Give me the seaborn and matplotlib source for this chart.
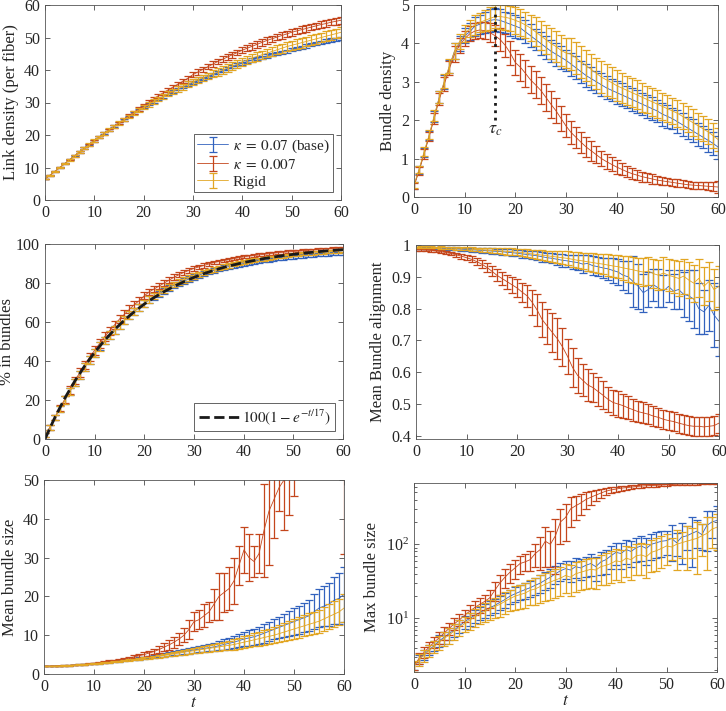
import matplotlib
matplotlib.use('Agg')
import pandas as pd
import matplotlib.pyplot as plt
import seaborn as sns
from matplotlib.ticker import LogLocator, NullFormatter

# time points (one sample per time unit)
t = list(range(61))
labels = [r'$\kappa\;=\;0.07$ (base)', r'$\kappa\;=\;0.007$', 'Rigid']
colors = ['#3262BE', '#C4461C', '#E2A624']

# --- link density (per fiber)
link_base = [6.5, 7.6, 8.8, 10.0, 11.2, 12.4, 13.6, 14.8, 16.0, 17.1,
             18.3, 19.4, 20.5, 21.6, 22.7, 23.7, 24.7, 25.7, 26.7, 27.6,
             28.5, 29.4, 30.3, 31.1, 31.9, 32.7, 33.4, 34.1, 34.8, 35.5,
             36.2, 36.8, 37.4, 38.0, 38.6, 39.2, 39.8, 40.4, 41.0, 41.6,
             42.1, 42.6, 43.1, 43.5, 43.9, 44.3, 44.7, 45.1, 45.5, 45.8,
             46.2, 46.6, 47.0, 47.4, 47.8, 48.2, 48.5, 48.9, 49.2, 49.5,
             49.8]
link_soft = [6.5, 7.6, 8.8, 10.0, 11.2, 12.4, 13.5, 14.7, 15.9, 17.0,
             18.2, 19.3, 20.4, 21.5, 22.6, 23.7, 24.8, 25.9, 27.0, 28.0,
             29.1, 30.1, 31.1, 32.1, 33.0, 33.9, 34.8, 35.7, 36.6, 37.5,
             38.6, 39.4, 40.2, 41.0, 41.8, 42.6, 43.3, 44.0, 44.7, 45.4,
             46.1, 46.7, 47.3, 47.9, 48.5, 49.1, 49.6, 50.1, 50.6, 51.1,
             51.6, 52.0, 52.4, 52.8, 53.2, 53.6, 54.0, 54.3, 54.7, 55.0,
             55.3]
link_rigid = [6.5, 7.6, 8.8, 10.0, 11.2, 12.4, 13.6, 14.8, 16.0, 17.1,
              18.3, 19.4, 20.5, 21.6, 22.7, 23.7, 24.7, 25.7, 26.7, 27.6,
              28.5, 29.4, 30.3, 31.1, 31.9, 32.7, 33.5, 34.2, 34.9, 35.6,
              36.3, 37.0, 37.6, 38.2, 38.8, 39.4, 40.0, 40.6, 41.2, 41.8,
              42.5, 43.1, 43.7, 44.2, 44.7, 45.2, 45.7, 46.2, 46.7, 47.2,
              47.6, 48.0, 48.4, 48.8, 49.2, 49.6, 50.0, 50.4, 50.8, 51.2,
              51.6]
link_base_err = [0.1, 0.1, 0.1, 0.1, 0.2, 0.2, 0.2, 0.2, 0.2, 0.2,
                 0.3, 0.3, 0.3, 0.3, 0.3, 0.3, 0.3, 0.3, 0.3, 0.3,
                 0.3, 0.3, 0.4, 0.4, 0.4, 0.4, 0.4, 0.4, 0.4, 0.4,
                 0.4, 0.4, 0.4, 0.4, 0.5, 0.5, 0.5, 0.5, 0.5, 0.5,
                 0.5, 0.5, 0.5, 0.5, 0.5, 0.5, 0.5, 0.5, 0.5, 0.5,
                 0.5, 0.5, 0.5, 0.5, 0.5, 0.5, 0.5, 0.5, 0.5, 0.5,
                 0.5]
link_soft_err = [0.1, 0.1, 0.1, 0.2, 0.2, 0.2, 0.2, 0.3, 0.3, 0.3,
                 0.3, 0.3, 0.4, 0.4, 0.4, 0.4, 0.4, 0.5, 0.5, 0.5,
                 0.5, 0.6, 0.6, 0.6, 0.6, 0.7, 0.7, 0.7, 0.7, 0.8,
                 0.8, 0.8, 0.8, 0.8, 0.9, 0.9, 0.9, 0.9, 0.9, 0.9,
                 1.0, 1.0, 1.0, 1.0, 1.0, 1.0, 1.0, 1.0, 1.0, 1.0,
                 1.0, 1.0, 1.0, 1.0, 1.0, 1.0, 1.0, 1.0, 1.0, 1.0,
                 1.0]
link_rigid_err = [0.1, 0.1, 0.2, 0.2, 0.2, 0.3, 0.3, 0.3, 0.3, 0.4,
                  0.4, 0.4, 0.4, 0.5, 0.5, 0.5, 0.5, 0.6, 0.6, 0.6,
                  0.6, 0.7, 0.7, 0.7, 0.8, 0.8, 0.8, 0.9, 0.9, 0.9,
                  1.0, 1.0, 1.0, 1.0, 1.1, 1.1, 1.1, 1.2, 1.2, 1.2,
                  1.2, 1.3, 1.3, 1.3, 1.3, 1.3, 1.4, 1.4, 1.4, 1.4,
                  1.4, 1.4, 1.5, 1.5, 1.5, 1.5, 1.5, 1.5, 1.5, 1.5,
                  1.5]

# --- bundle density
dens_base = [0.30, 0.70, 1.15, 1.60, 2.10, 2.60, 3.00, 3.40, 3.80, 4.00,
             4.20, 4.30, 4.45, 4.50, 4.55, 4.60, 4.62, 4.60, 4.55, 4.50,
             4.45, 4.40, 4.30, 4.20, 4.10, 4.00, 3.90, 3.80, 3.72, 3.64,
             3.56, 3.46, 3.36, 3.26, 3.16, 3.08, 3.00, 2.92, 2.84, 2.78,
             2.72, 2.66, 2.60, 2.54, 2.48, 2.42, 2.36, 2.30, 2.24, 2.16,
             2.10, 2.04, 1.96, 1.88, 1.80, 1.72, 1.64, 1.56, 1.48, 1.40,
             1.30]
dens_soft = [0.28, 0.68, 1.12, 1.58, 2.05, 2.55, 2.95, 3.35, 3.72, 3.95,
             4.12, 4.25, 4.32, 4.35, 4.33, 4.28, 4.20, 4.10, 3.95, 3.75,
             3.50, 3.38, 3.22, 3.05, 2.92, 2.78, 2.60, 2.42, 2.25, 2.05,
             1.85, 1.68, 1.55, 1.42, 1.30, 1.20, 1.10, 1.00, 0.92, 0.85,
             0.78, 0.72, 0.66, 0.61, 0.57, 0.53, 0.50, 0.47, 0.44, 0.42,
             0.40, 0.38, 0.36, 0.34, 0.32, 0.31, 0.30, 0.29, 0.28, 0.27,
             0.26]
dens_rigid = [0.32, 0.72, 1.18, 1.62, 2.12, 2.60, 3.02, 3.42, 3.80, 4.05,
              4.25, 4.38, 4.48, 4.55, 4.60, 4.65, 4.70, 4.70, 4.68, 4.65,
              4.60, 4.55, 4.48, 4.40, 4.30, 4.20, 4.10, 4.00, 3.92, 3.82,
              3.75, 3.72, 3.62, 3.52, 3.42, 3.32, 3.22, 3.12, 3.05, 2.98,
              2.90, 2.84, 2.78, 2.72, 2.66, 2.60, 2.54, 2.48, 2.42, 2.36,
              2.30, 2.24, 2.18, 2.10, 2.02, 1.94, 1.86, 1.78, 1.70, 1.60,
              1.50]
dens_base_err = [0.08, 0.10, 0.12, 0.12, 0.15, 0.15, 0.18, 0.18, 0.20, 0.20,
                 0.20, 0.22, 0.25, 0.25, 0.28, 0.30, 0.30, 0.30, 0.28, 0.30,
                 0.30, 0.28, 0.30, 0.30, 0.28, 0.30, 0.30, 0.28, 0.30, 0.30,
                 0.28, 0.30, 0.30, 0.28, 0.30, 0.30, 0.28, 0.30, 0.30, 0.28,
                 0.30, 0.30, 0.28, 0.30, 0.30, 0.28, 0.30, 0.30, 0.28, 0.30,
                 0.30, 0.28, 0.30, 0.30, 0.28, 0.30, 0.30, 0.28, 0.30, 0.30,
                 0.30]
dens_soft_err = [0.08, 0.10, 0.12, 0.12, 0.15, 0.15, 0.18, 0.18, 0.20, 0.20,
                 0.20, 0.20, 0.20, 0.20, 0.22, 0.25, 0.28, 0.30, 0.30, 0.32,
                 0.32, 0.35, 0.35, 0.35, 0.35, 0.35, 0.35, 0.35, 0.33, 0.33,
                 0.30, 0.30, 0.28, 0.28, 0.25, 0.25, 0.22, 0.20, 0.20, 0.18,
                 0.18, 0.16, 0.15, 0.14, 0.14, 0.13, 0.12, 0.12, 0.11, 0.11,
                 0.10, 0.10, 0.10, 0.09, 0.09, 0.09, 0.09, 0.09, 0.10, 0.12,
                 0.15]
dens_rigid_err = [0.08, 0.10, 0.12, 0.12, 0.15, 0.15, 0.18, 0.18, 0.20, 0.20,
                  0.22, 0.22, 0.25, 0.25, 0.28, 0.30, 0.30, 0.32, 0.32, 0.32,
                  0.35, 0.35, 0.35, 0.35, 0.38, 0.38, 0.38, 0.40, 0.40, 0.40,
                  0.40, 0.42, 0.42, 0.42, 0.40, 0.40, 0.40, 0.42, 0.42, 0.40,
                  0.40, 0.40, 0.38, 0.38, 0.38, 0.38, 0.36, 0.36, 0.36, 0.36,
                  0.35, 0.35, 0.35, 0.34, 0.34, 0.34, 0.34, 0.32, 0.32, 0.32,
                  0.30]
tau_c = 16
tau_line = [2, 5]

# --- % in bundles
pct_base = [2, 6, 11, 15.5, 20, 24.5, 29, 33, 37, 40.5,
            44, 47.5, 50.5, 53.5, 56, 58.5, 61, 63.5, 65.5, 67.5,
            69.5, 71.5, 73, 74.5, 76, 77.5, 79, 80, 81, 82,
            83, 84, 85, 85.8, 86.5, 87.2, 87.8, 88.4, 89, 89.5,
            90, 90.4, 90.8, 91.2, 91.6, 92, 92.3, 92.6, 92.9, 93.2,
            93.4, 93.6, 93.8, 94, 94.2, 94.4, 94.6, 94.8, 95, 95.1,
            95.2]
pct_soft = [2, 6, 11, 16, 20.5, 25, 30, 34, 38, 42,
            45.5, 49, 52.5, 55.5, 58.5, 61.5, 64, 66.5, 69, 71,
            73.5, 75.5, 77, 78.5, 80, 81.5, 83, 84.3, 85.5, 86.5,
            87.5, 88.3, 89, 89.8, 90.5, 91, 91.5, 92, 92.5, 93,
            93.4, 93.8, 94.1, 94.4, 94.7, 95, 95.3, 95.6, 95.8, 96,
            96.2, 96.4, 96.6, 96.8, 97, 97.2, 97.4, 97.6, 97.7, 97.8,
            98]
pct_rigid = [2, 6, 11, 15.5, 20, 24.5, 29, 33, 37, 40.5,
             44, 47.5, 50.5, 53.5, 56, 58.5, 61, 63.5, 65.5, 67.5,
             69.5, 71.5, 73.2, 74.8, 76.3, 77.8, 79.2, 80.4, 81.5, 82.6,
             83.6, 84.5, 85.4, 86.2, 87, 87.7, 88.4, 89, 89.6, 90.1,
             90.6, 91.1, 91.6, 92, 92.4, 92.8, 93.2, 93.5, 93.8, 94.1,
             94.4, 94.7, 95, 95.2, 95.4, 95.6, 95.8, 96, 96.2, 96.4,
             96.6]
pct_base_err = [1.0, 1.2, 1.5, 1.5, 1.8, 1.8, 2.0, 2.0, 2.0, 2.0,
                2.0, 2.0, 2.0, 2.0, 2.0, 2.0, 2.0, 2.0, 1.8, 1.8,
                1.8, 1.8, 1.8, 1.6, 1.6, 1.6, 1.5, 1.5, 1.5, 1.4,
                1.4, 1.4, 1.3, 1.3, 1.3, 1.2, 1.2, 1.2, 1.2, 1.1,
                1.1, 1.1, 1.0, 1.0, 1.0, 1.0, 1.0, 0.9, 0.9, 0.9,
                0.9, 0.9, 0.9, 0.8, 0.8, 0.8, 0.8, 0.8, 0.8, 0.8,
                0.8]
pct_soft_err = [1.0, 1.2, 1.5, 1.6, 1.8, 2.0, 2.0, 2.2, 2.2, 2.2,
                2.2, 2.2, 2.2, 2.0, 2.0, 2.0, 2.0, 2.0, 1.8, 1.8,
                1.8, 1.6, 1.6, 1.5, 1.5, 1.4, 1.4, 1.3, 1.3, 1.2,
                1.2, 1.1, 1.1, 1.0, 1.0, 1.0, 0.9, 0.9, 0.9, 0.9,
                0.8, 0.8, 0.8, 0.8, 0.8, 0.7, 0.7, 0.7, 0.7, 0.7,
                0.7, 0.7, 0.6, 0.6, 0.6, 0.6, 0.6, 0.6, 0.6, 0.6,
                0.6]
pct_rigid_err = [1.0, 1.2, 1.5, 1.5, 1.8, 1.8, 2.0, 2.0, 2.2, 2.2,
                 2.2, 2.2, 2.0, 2.0, 2.0, 2.0, 2.0, 2.0, 1.8, 1.8,
                 1.8, 1.8, 1.6, 1.6, 1.6, 1.5, 1.5, 1.5, 1.4, 1.4,
                 1.3, 1.3, 1.3, 1.2, 1.2, 1.2, 1.1, 1.1, 1.1, 1.0,
                 1.0, 1.0, 1.0, 0.9, 0.9, 0.9, 0.9, 0.9, 0.8, 0.8,
                 0.8, 0.8, 0.8, 0.8, 0.8, 0.8, 0.8, 0.8, 0.8, 0.8,
                 0.8]
fit_t = [0, 2, 4, 6, 8, 10, 12, 14, 16, 18, 20, 22, 24, 26, 28, 30,
         32, 34, 36, 38, 40, 42, 44, 46, 48, 50, 52, 54, 56, 58, 60]
fit_pct = [0, 11.1, 21.0, 29.7, 37.5, 44.5, 50.6, 56.1, 61.0, 65.3, 69.2,
           72.6, 75.6, 78.3, 80.7, 82.9, 84.8, 86.5, 88.0, 89.3, 90.5,
           91.5, 92.5, 93.3, 94.1, 94.7, 95.3, 95.8, 96.3, 96.7, 97.1]

# --- mean bundle alignment
align_base = [0.990, 0.991, 0.991, 0.990, 0.990, 0.990, 0.989, 0.989, 0.988, 0.987,
              0.986, 0.985, 0.984, 0.983, 0.982, 0.981, 0.980, 0.979, 0.977, 0.976,
              0.974, 0.972, 0.970, 0.968, 0.966, 0.963, 0.960, 0.958, 0.955, 0.952,
              0.950, 0.947, 0.945, 0.940, 0.942, 0.935, 0.932, 0.928, 0.925, 0.920,
              0.915, 0.905, 0.900, 0.885, 0.870, 0.850, 0.860, 0.875, 0.865, 0.855,
              0.870, 0.855, 0.860, 0.845, 0.840, 0.830, 0.800, 0.790, 0.810, 0.780,
              0.760]
align_soft = [0.985, 0.985, 0.984, 0.983, 0.981, 0.979, 0.976, 0.973, 0.969, 0.965,
              0.960, 0.955, 0.948, 0.940, 0.930, 0.918, 0.905, 0.895, 0.885, 0.875,
              0.865, 0.852, 0.840, 0.820, 0.795, 0.765, 0.745, 0.725, 0.705, 0.680,
              0.650, 0.615, 0.590, 0.575, 0.560, 0.552, 0.540, 0.528, 0.515, 0.505,
              0.500, 0.495, 0.488, 0.482, 0.476, 0.472, 0.468, 0.462, 0.458, 0.452,
              0.448, 0.445, 0.440, 0.436, 0.432, 0.430, 0.430, 0.428, 0.430, 0.432,
              0.440]
align_rigid = [0.992, 0.993, 0.993, 0.993, 0.992, 0.992, 0.991, 0.991, 0.990, 0.989,
               0.988, 0.987, 0.986, 0.985, 0.984, 0.983, 0.982, 0.981, 0.980, 0.979,
               0.977, 0.976, 0.974, 0.972, 0.970, 0.968, 0.966, 0.964, 0.962, 0.960,
               0.958, 0.955, 0.952, 0.950, 0.947, 0.945, 0.942, 0.940, 0.937, 0.934,
               0.932, 0.928, 0.925, 0.922, 0.918, 0.915, 0.918, 0.910, 0.905, 0.912,
               0.905, 0.900, 0.895, 0.902, 0.890, 0.880, 0.895, 0.870, 0.885, 0.860,
               0.870]
align_base_err = [0.003, 0.003, 0.003, 0.003, 0.003, 0.004, 0.004, 0.004, 0.005, 0.005,
                  0.005, 0.006, 0.006, 0.007, 0.007, 0.008, 0.008, 0.009, 0.010, 0.010,
                  0.010, 0.012, 0.012, 0.013, 0.014, 0.015, 0.015, 0.016, 0.018, 0.020,
                  0.020, 0.022, 0.025, 0.028, 0.025, 0.030, 0.030, 0.032, 0.035, 0.040,
                  0.040, 0.045, 0.050, 0.080, 0.070, 0.060, 0.055, 0.050, 0.060, 0.050,
                  0.050, 0.055, 0.060, 0.070, 0.080, 0.090, 0.080, 0.070, 0.080, 0.100,
                  0.110]
align_soft_err = [0.003, 0.003, 0.003, 0.004, 0.004, 0.005, 0.005, 0.006, 0.007, 0.008,
                  0.008, 0.010, 0.010, 0.012, 0.014, 0.016, 0.018, 0.020, 0.022, 0.025,
                  0.028, 0.030, 0.035, 0.040, 0.050, 0.055, 0.055, 0.060, 0.065, 0.060,
                  0.055, 0.060, 0.055, 0.050, 0.050, 0.045, 0.045, 0.045, 0.040, 0.040,
                  0.040, 0.038, 0.036, 0.035, 0.034, 0.033, 0.032, 0.032, 0.031, 0.030,
                  0.030, 0.030, 0.030, 0.030, 0.030, 0.030, 0.030, 0.030, 0.030, 0.030,
                  0.030]
align_rigid_err = [0.003, 0.003, 0.003, 0.003, 0.003, 0.004, 0.004, 0.004, 0.005, 0.005,
                   0.005, 0.006, 0.006, 0.007, 0.007, 0.008, 0.008, 0.009, 0.010, 0.010,
                   0.010, 0.012, 0.012, 0.013, 0.014, 0.015, 0.016, 0.018, 0.020, 0.020,
                   0.022, 0.024, 0.025, 0.026, 0.028, 0.030, 0.030, 0.032, 0.034, 0.035,
                   0.036, 0.038, 0.040, 0.040, 0.042, 0.044, 0.045, 0.046, 0.048, 0.050,
                   0.050, 0.052, 0.054, 0.055, 0.056, 0.058, 0.060, 0.060, 0.062, 0.064,
                   0.065]

# --- mean bundle size
size_base = [2.0, 2.0, 2.05, 2.1, 2.15, 2.2, 2.3, 2.4, 2.5, 2.6,
             2.7, 2.8, 2.95, 3.1, 3.25, 3.4, 3.55, 3.7, 3.85, 4.0,
             4.2, 4.4, 4.6, 4.8, 5.0, 5.2, 5.4, 5.6, 5.8, 6.0,
             6.2, 6.4, 6.6, 6.8, 7.0, 7.3, 7.6, 7.9, 8.2, 8.6,
             9.0, 9.3, 9.6, 10.0, 10.5, 11.0, 11.5, 12.0, 12.5, 13.0,
             13.5, 14.0, 14.5, 15.0, 16.0, 17.0, 17.5, 18.0, 19.0, 19.5,
             20.5]
size_soft = [2.0, 2.0, 2.05, 2.1, 2.15, 2.2, 2.3, 2.4, 2.5, 2.65,
             2.8, 2.95, 3.1, 3.3, 3.5, 3.7, 3.9, 4.15, 4.4, 4.7,
             5.0, 5.4, 5.8, 6.3, 6.9, 7.5, 8.2, 9.0, 10.0, 11.5,
             13.5, 14.0, 15.0, 16.0, 18.0, 20.0, 21.0, 22.0, 24.0, 28.0,
             32.0, 30.0, 29.0, 31.0, 37.0, 42.0, 45.0, 48.0, 50.0, 52.0,
             56.0, 64.0, 66.0, 68.0, 70.0, 72.0, 72.0, 74.0, 76.0, 78.0,
             80.0]
size_rigid = [2.0, 2.0, 2.05, 2.1, 2.15, 2.2, 2.3, 2.4, 2.5, 2.6,
              2.7, 2.8, 2.9, 3.0, 3.15, 3.3, 3.45, 3.6, 3.75, 3.9,
              4.05, 4.2, 4.4, 4.6, 4.8, 5.0, 5.2, 5.4, 5.6, 5.8,
              6.0, 6.2, 6.4, 6.6, 6.8, 7.0, 7.2, 7.4, 7.6, 7.9,
              8.2, 8.5, 8.8, 9.1, 9.4, 9.7, 10.0, 10.4, 10.8, 11.2,
              11.6, 12.0, 12.4, 12.8, 13.2, 13.6, 14.2, 14.8, 15.4, 16.0,
              17.0]
size_base_err = [0.05, 0.05, 0.05, 0.05, 0.05, 0.05, 0.06, 0.06, 0.07, 0.08,
                 0.10, 0.10, 0.12, 0.14, 0.15, 0.18, 0.20, 0.22, 0.25, 0.28,
                 0.30, 0.35, 0.40, 0.45, 0.50, 0.55, 0.60, 0.65, 0.70, 0.75,
                 0.80, 0.85, 0.90, 1.0, 1.1, 1.2, 1.3, 1.4, 1.5, 1.6,
                 1.8, 2.0, 2.0, 2.2, 2.4, 2.5, 2.6, 2.8, 3.0, 3.2,
                 3.4, 3.6, 3.8, 4.0, 4.5, 5.0, 5.2, 5.5, 6.0, 6.5,
                 7.0]
size_soft_err = [0.05, 0.05, 0.05, 0.05, 0.05, 0.05, 0.06, 0.07, 0.08, 0.10,
                 0.12, 0.14, 0.16, 0.18, 0.20, 0.25, 0.30, 0.35, 0.40, 0.45,
                 0.55, 0.65, 0.75, 0.9, 1.0, 1.2, 1.4, 1.6, 1.8, 2.5,
                 2.5, 2.5, 3.0, 2.5, 4.0, 6.0, 5.0, 5.5, 6.0, 5.0,
                 6.0, 6.0, 4.0, 5.0, 12.0, 14.0, 10.0, 6.0, 13.0, 11.0,
                 10.0, 12.0, 14.0, 15.0, 15.0, 16.0, 18.0, 18.0, 20.0, 22.0,
                 49.0]
size_rigid_err = [0.05, 0.05, 0.05, 0.05, 0.05, 0.05, 0.06, 0.06, 0.07, 0.08,
                  0.09, 0.10, 0.11, 0.12, 0.14, 0.16, 0.18, 0.20, 0.22, 0.25,
                  0.28, 0.30, 0.34, 0.38, 0.42, 0.46, 0.50, 0.55, 0.60, 0.65,
                  0.70, 0.75, 0.80, 0.85, 0.90, 1.0, 1.1, 1.2, 1.3, 1.4,
                  1.5, 1.6, 1.7, 1.8, 1.9, 2.0, 2.1, 2.2, 2.3, 2.4,
                  2.5, 2.6, 2.7, 2.8, 2.9, 3.0, 3.1, 3.2, 3.3, 3.4,
                  3.5]

# --- max bundle size (log axis)
max_base = [2.3, 2.8, 3.3, 3.8, 4.3, 5.0, 5.6, 6.3, 7.0, 8.0,
            9.0, 10.0, 11.0, 12.0, 13.0, 14.0, 15.0, 16.5, 18.0, 20.0,
            21.5, 23.0, 24.5, 26.0, 28.0, 30.0, 33.0, 36.0, 40.0, 44.0,
            47.0, 45.0, 50.0, 48.0, 52.0, 55.0, 50.0, 58.0, 62.0, 70.0,
            78.0, 75.0, 85.0, 80.0, 90.0, 95.0, 88.0, 100.0, 105.0, 110.0,
            112.0, 120.0, 105.0, 125.0, 130.0, 140.0, 150.0, 135.0, 180.0, 200.0,
            210.0]
max_soft = [2.3, 2.9, 3.5, 4.1, 4.8, 5.5, 6.4, 7.4, 8.5, 9.6,
            11.0, 12.5, 14.0, 15.5, 17.0, 19.0, 24.0, 30.0, 36.0, 42.0,
            48.0, 55.0, 58.0, 62.0, 75.0, 85.0, 110.0, 100.0, 130.0, 200.0,
            230.0, 300.0, 330.0, 360.0, 400.0, 430.0, 460.0, 490.0, 520.0, 540.0,
            555.0, 570.0, 580.0, 590.0, 600.0, 610.0, 615.0, 620.0, 625.0, 630.0,
            635.0, 640.0, 645.0, 648.0, 650.0, 652.0, 655.0, 658.0, 660.0, 662.0,
            665.0]
max_rigid = [2.3, 2.8, 3.2, 3.7, 4.2, 4.8, 5.4, 6.0, 6.8, 7.6,
             8.5, 9.5, 10.5, 11.5, 12.5, 13.5, 14.5, 15.5, 17.0, 18.5,
             20.0, 21.0, 22.0, 24.0, 25.0, 27.0, 29.0, 31.0, 33.0, 35.0,
             38.0, 36.0, 40.0, 42.0, 44.0, 46.0, 45.0, 50.0, 52.0, 55.0,
             60.0, 58.0, 65.0, 62.0, 70.0, 72.0, 68.0, 78.0, 82.0, 88.0,
             95.0, 92.0, 100.0, 105.0, 110.0, 115.0, 120.0, 130.0, 140.0, 160.0,
             170.0]
max_base_err = [0.3, 0.4, 0.5, 0.6, 0.7, 0.9, 1.0, 1.2, 1.4, 1.6,
                1.8, 2.0, 2.2, 2.5, 2.8, 3.0, 3.3, 3.6, 4.0, 4.5,
                5.0, 5.5, 6.0, 6.5, 7.0, 8.0, 9.0, 10.0, 11.0, 12.0,
                13.0, 14.0, 15.0, 15.0, 16.0, 18.0, 18.0, 20.0, 22.0, 24.0,
                26.0, 28.0, 30.0, 30.0, 32.0, 35.0, 35.0, 38.0, 40.0, 42.0,
                40.0, 60.0, 35.0, 70.0, 45.0, 90.0, 60.0, 50.0, 100.0, 80.0,
                120.0]
max_soft_err = [0.3, 0.5, 0.6, 0.7, 0.8, 1.0, 1.2, 1.4, 1.6, 1.8,
                2.0, 2.5, 3.0, 3.5, 4.0, 5.0, 7.0, 9.0, 10.0, 12.0,
                14.0, 15.0, 15.0, 18.0, 25.0, 40.0, 60.0, 50.0, 90.0, 100.0,
                120.0, 130.0, 120.0, 110.0, 100.0, 90.0, 80.0, 70.0, 60.0, 50.0,
                45.0, 40.0, 38.0, 36.0, 34.0, 32.0, 30.0, 28.0, 26.0, 24.0,
                22.0, 20.0, 20.0, 18.0, 18.0, 16.0, 16.0, 15.0, 15.0, 14.0,
                14.0]
max_rigid_err = [0.4, 0.5, 0.6, 0.7, 0.8, 1.0, 1.2, 1.4, 1.6, 1.8,
                 2.0, 2.4, 2.8, 3.2, 3.6, 4.0, 4.5, 5.0, 5.5, 6.0,
                 7.0, 7.5, 8.0, 9.0, 10.0, 11.0, 12.0, 13.0, 14.0, 15.0,
                 16.0, 16.0, 17.0, 18.0, 19.0, 20.0, 20.0, 22.0, 24.0, 25.0,
                 27.0, 27.0, 29.0, 29.0, 31.0, 33.0, 33.0, 36.0, 38.0, 40.0,
                 43.0, 30.0, 55.0, 40.0, 65.0, 50.0, 80.0, 60.0, 95.0, 70.0,
                 85.0]


def err_plotter(ax, means, errs):
    handles = []
    for mean, err, color in zip(means, errs, colors):
        assert len(mean) == len(t) and len(err) == len(t)
        df = pd.DataFrame({'t': t, 'value': mean})
        sns.lineplot(x='t', y='value', data=df, color=color, linewidth=0.6, ax=ax)
        line = ax.lines[-1]
        eb = ax.errorbar(t, mean, yerr=err, fmt='none', ecolor=color,
                         elinewidth=0.9, capsize=3.0, capthick=0.9)
        handles.append((line, eb))
    return handles


def style_axes(ax, ylabel, xlabel='', pad=4):
    ax.set_xlim(0, 60)
    ax.set_xticks(range(0, 61, 10))
    ax.set_ylabel(ylabel, fontsize=12, color='#262626', labelpad=pad)
    ax.set_xlabel(xlabel, fontsize=12.5, color='#262626', labelpad=0)
    ax.tick_params(which='both', direction='in', top=True, right=True,
                   width=0.5, colors='#262626', labelsize=11.5)
    ax.tick_params(which='major', length=3.5)
    ax.tick_params(which='minor', length=2)
    for s in ax.spines.values():
        s.set_linewidth(0.6)
        s.set_color('#555555')


sns.set_theme(style='ticks')
plt.rcParams['font.family'] = ['Liberation Serif', 'DejaVu Serif']
plt.rcParams['mathtext.fontset'] = 'stix'
plt.rcParams['axes.unicode_minus'] = True

W, H = 726, 711
fig = plt.figure(figsize=(W / 100, H / 100), dpi=100)


def box(l, r, top, bottom):
    return [l / W, (H - bottom) / H, (r - l) / W, (bottom - top) / H]


ax1 = fig.add_axes(box(45, 341, 5, 200))
ax2 = fig.add_axes(box(414, 718, 5, 197))
ax3 = fig.add_axes(box(45, 343, 244, 439))
ax4 = fig.add_axes(box(416, 719, 245, 439))
ax5 = fig.add_axes(box(44, 344, 480, 674))
ax6 = fig.add_axes(box(414, 717, 483, 672))

# link density
h = err_plotter(ax1, [link_base, link_soft, link_rigid],
                [link_base_err, link_soft_err, link_rigid_err])
ax1.set_ylim(0, 60)
ax1.set_yticks(range(0, 61, 10))
style_axes(ax1, 'Link density (per fiber)')
leg = ax1.legend(h, labels, loc='lower right', fontsize=11, frameon=True,
                 fancybox=False, framealpha=1, edgecolor='#262626',
                 handlelength=2.0, borderpad=0.25, labelspacing=0.2, handletextpad=0.3,
                 borderaxespad=0.5)
leg.get_frame().set_linewidth(0.5)

# bundle density
err_plotter(ax2, [dens_base, dens_soft, dens_rigid],
            [dens_base_err, dens_soft_err, dens_rigid_err])
ax2.vlines(tau_c, tau_line[0], tau_line[1], colors='k', linestyles=':', linewidth=2)
ax2.text(tau_c, tau_line[0] - 0.25, r'$\tau_c$', ha='center', va='center', fontsize=13)
ax2.set_ylim(0, 5)
ax2.set_yticks(range(0, 6))
style_axes(ax2, 'Bundle density')

# % in bundles
err_plotter(ax3, [pct_base, pct_soft, pct_rigid],
            [pct_base_err, pct_soft_err, pct_rigid_err])
sns.lineplot(x=fit_t, y=fit_pct, color='k', linestyle='--', linewidth=2, ax=ax3)
fit_line = ax3.lines[-1]
ax3.set_ylim(0, 100)
ax3.set_yticks(range(0, 101, 20))
style_axes(ax3, '% in bundles', pad=1)
leg = ax3.legend([fit_line], [r'$100(1-e^{-t/17})$'], loc='lower right', fontsize=11,
                 frameon=True, fancybox=False, framealpha=1, edgecolor='#262626',
                 handlelength=2.6, borderpad=0.3, handletextpad=0.2)
leg.get_frame().set_linewidth(0.5)

# mean bundle alignment
err_plotter(ax4, [align_base, align_soft, align_rigid],
            [align_base_err, align_soft_err, align_rigid_err])
ax4.set_ylim(0.39, 1)
ax4.set_yticks([0.4, 0.5, 0.6, 0.7, 0.8, 0.9, 1.0])
ax4.set_yticklabels(['0.4', '0.5', '0.6', '0.7', '0.8', '0.9', '1'])
style_axes(ax4, 'Mean Bundle alignment')

# mean bundle size
err_plotter(ax5, [size_base, size_soft, size_rigid],
            [size_base_err, size_soft_err, size_rigid_err])
ax5.set_ylim(0, 50)
ax5.set_yticks(range(0, 51, 10))
style_axes(ax5, 'Mean bundle size', '$t$')

# max bundle size
err_plotter(ax6, [max_base, max_soft, max_rigid],
            [max_base_err, max_soft_err, max_rigid_err])
ax6.set_yscale('log')
ax6.set_ylim(1.9, 670)
ax6.yaxis.set_major_locator(LogLocator(base=10, numticks=10))
ax6.yaxis.set_minor_locator(LogLocator(base=10, subs=range(2, 10), numticks=20))
ax6.yaxis.set_minor_formatter(NullFormatter())
style_axes(ax6, 'Max bundle size', '$t$')

plt.savefig('out.png', dpi=100)
